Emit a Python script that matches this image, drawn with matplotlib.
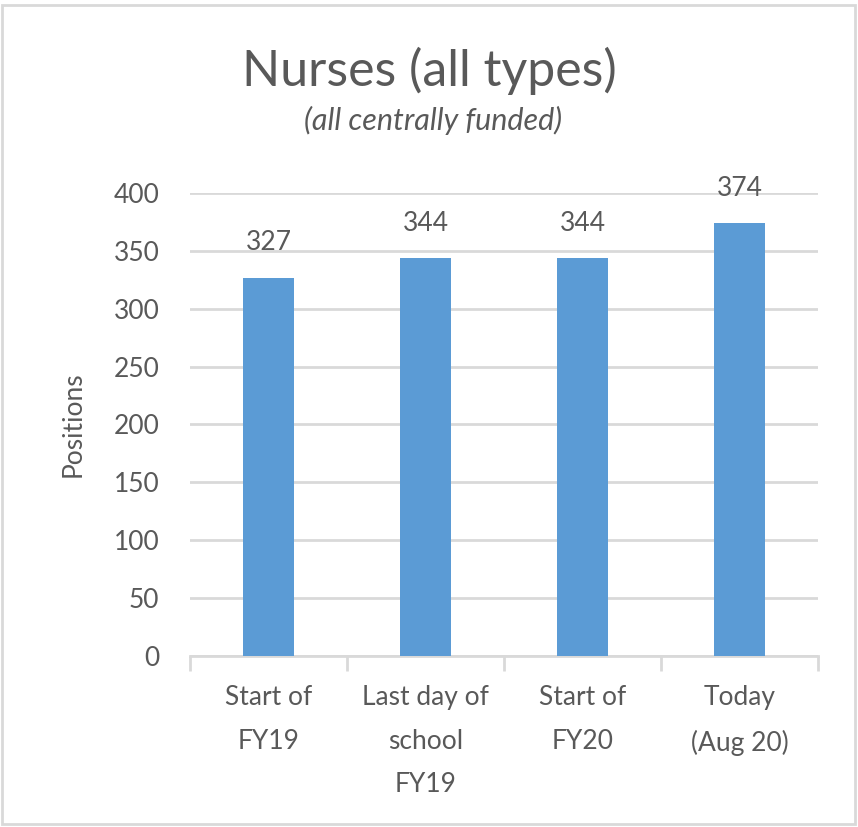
import matplotlib
import matplotlib.pyplot as plt
from matplotlib.patches import Rectangle

matplotlib.use("Agg")

categories = ["Start of\nFY19", "Last day of\nschool\nFY19", "Start of\nFY20", "Today\n(Aug 20)"]
values = [327, 344, 344, 374]
y_ticks = [0, 50, 100, 150, 200, 250, 300, 350, 400]

text_color = "#595959"
grid_color = "#d9d9d9"
bar_color = "#5b9bd5"

plt.rcParams["font.family"] = ["Lato", "DejaVu Sans"]

fig = plt.figure(figsize=(8.58, 8.27), dpi=100)
ax = fig.add_axes([0.2214, 0.2068, 0.732, 0.5598])

x = range(len(categories))
bars = ax.bar(x, values, width=0.33, color=bar_color, zorder=3)

# Value labels above bars
for bar, v in zip(bars, values):
    ax.annotate(
        f"{v}",
        (bar.get_x() + bar.get_width() / 2, v),
        xytext=(0, 16),
        textcoords="offset points",
        ha="center",
        va="bottom",
        fontsize=19,
        color=text_color,
    )

ax.set_xlim(-0.5, len(categories) - 0.5)
ax.set_ylim(0, 400)
ax.set_yticks(y_ticks)
ax.tick_params(axis="y", length=0, pad=22, labelsize=19, labelcolor=text_color)
ax.grid(True, axis="y", color=grid_color, linewidth=2, zorder=0)

# Category labels centred, tick marks between categories
ax.set_xticks(list(x))
ax.set_xticklabels(categories, fontsize=19, color=text_color, linespacing=1.92)
ax.tick_params(axis="x", which="major", length=0, pad=21)
ax.set_xticks([i - 0.5 for i in range(len(categories) + 1)], minor=True)
ax.tick_params(axis="x", which="minor", length=11, width=2, color=grid_color)

for side in ["top", "right", "left"]:
    ax.spines[side].set_visible(False)
ax.spines["bottom"].set_color(grid_color)
ax.spines["bottom"].set_linewidth(2)

ax.set_ylabel("Positions", fontsize=19, color=text_color, labelpad=20)

fig.text(0.5, 0.896, "Nurses (all types)", ha="center", va="baseline",
         fontsize=36, color=text_color)
fig.text(0.505, 0.843, "(all centrally funded)", ha="center", va="baseline",
         fontsize=22, style="italic", color=text_color)

# Chart border
fig.patches.append(Rectangle((0.002, 0.004), 0.995, 0.99, transform=fig.transFigure,
                             fill=False, edgecolor=grid_color, linewidth=2))

fig.savefig("out.png", dpi=100)
plt.close(fig)
